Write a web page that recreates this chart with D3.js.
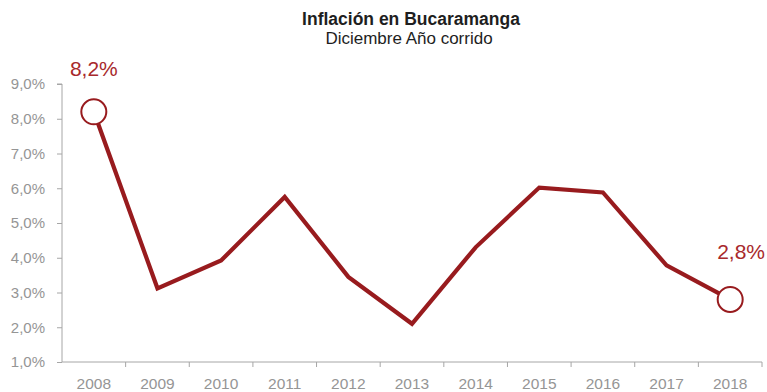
<!DOCTYPE html>
<html>
<head>
<meta charset="utf-8">
<script src="https://cdn.jsdelivr.net/npm/d3@7"></script>
<style>
  html, body { margin: 0; padding: 0; background: #fff; }
  svg { display: block; }
  text { font-family: "Liberation Sans", Arial, sans-serif; }
</style>
</head>
<body>
<svg id="chart" width="767" height="392"></svg>
<script>
// Inflación anual (diciembre, año corrido) en Bucaramanga
const years = ["2008","2009","2010","2011","2012","2013","2014","2015","2016","2017","2018"];
const inflation = [8.2, 3.12, 3.92, 5.75, 3.45, 2.1, 4.3, 6.02, 5.88, 3.78, 2.8];
const yTicks = [1, 2, 3, 4, 5, 6, 7, 8, 9];
const labelled = ["2008", "2018"];

const titleText = "Inflación en Bucaramanga";
const subtitleText = "Diciembre Año corrido";

const W = 767, H = 392;
const margin = { top: 84, right: 5, bottom: 30, left: 62 };

const svg = d3.select("#chart");
const lineColor = "#981b1e";
const axisColor = "#a6a6a6";
const tickTextColor = "#959595";

const x = d3.scaleBand()
  .domain(years)
  .range([margin.left, W - margin.right])
  .paddingInner(0).paddingOuter(0);

const y = d3.scaleLinear()
  .domain([1, 9])
  .range([H - margin.bottom, margin.top]);

const fmt = v => d3.format(".1f")(v).replace(".", ",") + "%";

// Title
svg.append("text")
  .attr("x", 411).attr("y", 25)
  .attr("text-anchor", "middle")
  .attr("font-size", 17.5).attr("font-weight", "bold")
  .attr("fill", "#1e1e1e")
  .text(titleText);
svg.append("text")
  .attr("x", 409).attr("y", 44)
  .attr("text-anchor", "middle")
  .attr("font-size", 17)
  .attr("fill", "#1e1e1e")
  .text(subtitleText);

// Y axis
const yAxis = d3.axisLeft(y)
  .tickValues(yTicks)
  .tickSize(5)
  .tickPadding(12)
  .tickFormat(fmt);
const gy = svg.append("g")
  .attr("transform", `translate(${margin.left},0)`)
  .call(yAxis);
gy.select(".domain").attr("stroke", axisColor).attr("d", `M-5,${y(9)}H0V${y(1)}`);
gy.selectAll(".tick line").attr("stroke", axisColor);
gy.selectAll(".tick text")
  .attr("font-family", "Liberation Sans, Arial, sans-serif")
  .attr("font-size", 15)
  .attr("fill", tickTextColor);

// X axis with tick marks between categories
const gx = svg.append("g")
  .attr("transform", `translate(0,${y(1)})`);
gx.append("line")
  .attr("x1", margin.left).attr("x2", W - margin.right)
  .attr("stroke", axisColor);
gx.selectAll("line.sep")
  .data(years)
  .join("line")
  .attr("class", "sep")
  .attr("x1", d => x(d) + x.bandwidth()).attr("x2", d => x(d) + x.bandwidth())
  .attr("y1", 0).attr("y2", 5)
  .attr("stroke", axisColor);
gx.selectAll("text")
  .data(years)
  .join("text")
  .attr("x", d => x(d) + x.bandwidth() / 2)
  .attr("y", 27)
  .attr("text-anchor", "middle")
  .attr("font-size", 15.5)
  .attr("fill", tickTextColor)
  .text(d => d);

// Line
const pts = years.map((yr, i) => ({ yr, v: inflation[i] }));
const line = d3.line()
  .x(d => x(d.yr) + x.bandwidth() / 2)
  .y(d => y(d.v));
svg.append("path")
  .datum(pts)
  .attr("fill", "none")
  .attr("stroke", lineColor)
  .attr("stroke-width", 4.2)
  .attr("stroke-linejoin", "miter")
  .attr("d", line);

// End markers and value labels
const ends = pts.filter(d => labelled.includes(d.yr));
svg.selectAll("circle.end")
  .data(ends)
  .join("circle")
  .attr("class", "end")
  .attr("cx", d => x(d.yr) + x.bandwidth() / 2)
  .attr("cy", d => y(d.v))
  .attr("r", 12.5)
  .attr("fill", "#fff")
  .attr("stroke", lineColor)
  .attr("stroke-width", 2);

// The last label is pulled in from the right edge so it stays inside the frame
svg.selectAll("text.val")
  .data(ends)
  .join("text")
  .attr("class", "val")
  .attr("x", d => d.yr === "2018" ? W - 2 : x(d.yr) + x.bandwidth() / 2)
  .attr("y", d => y(d.v) - (d.yr === "2018" ? 40 : 36))
  .attr("text-anchor", d => d.yr === "2018" ? "end" : "middle")
  .attr("font-size", 21)
  .attr("fill", "#a8292c")
  .text(d => fmt(d.v));
</script>
</body>
</html>
